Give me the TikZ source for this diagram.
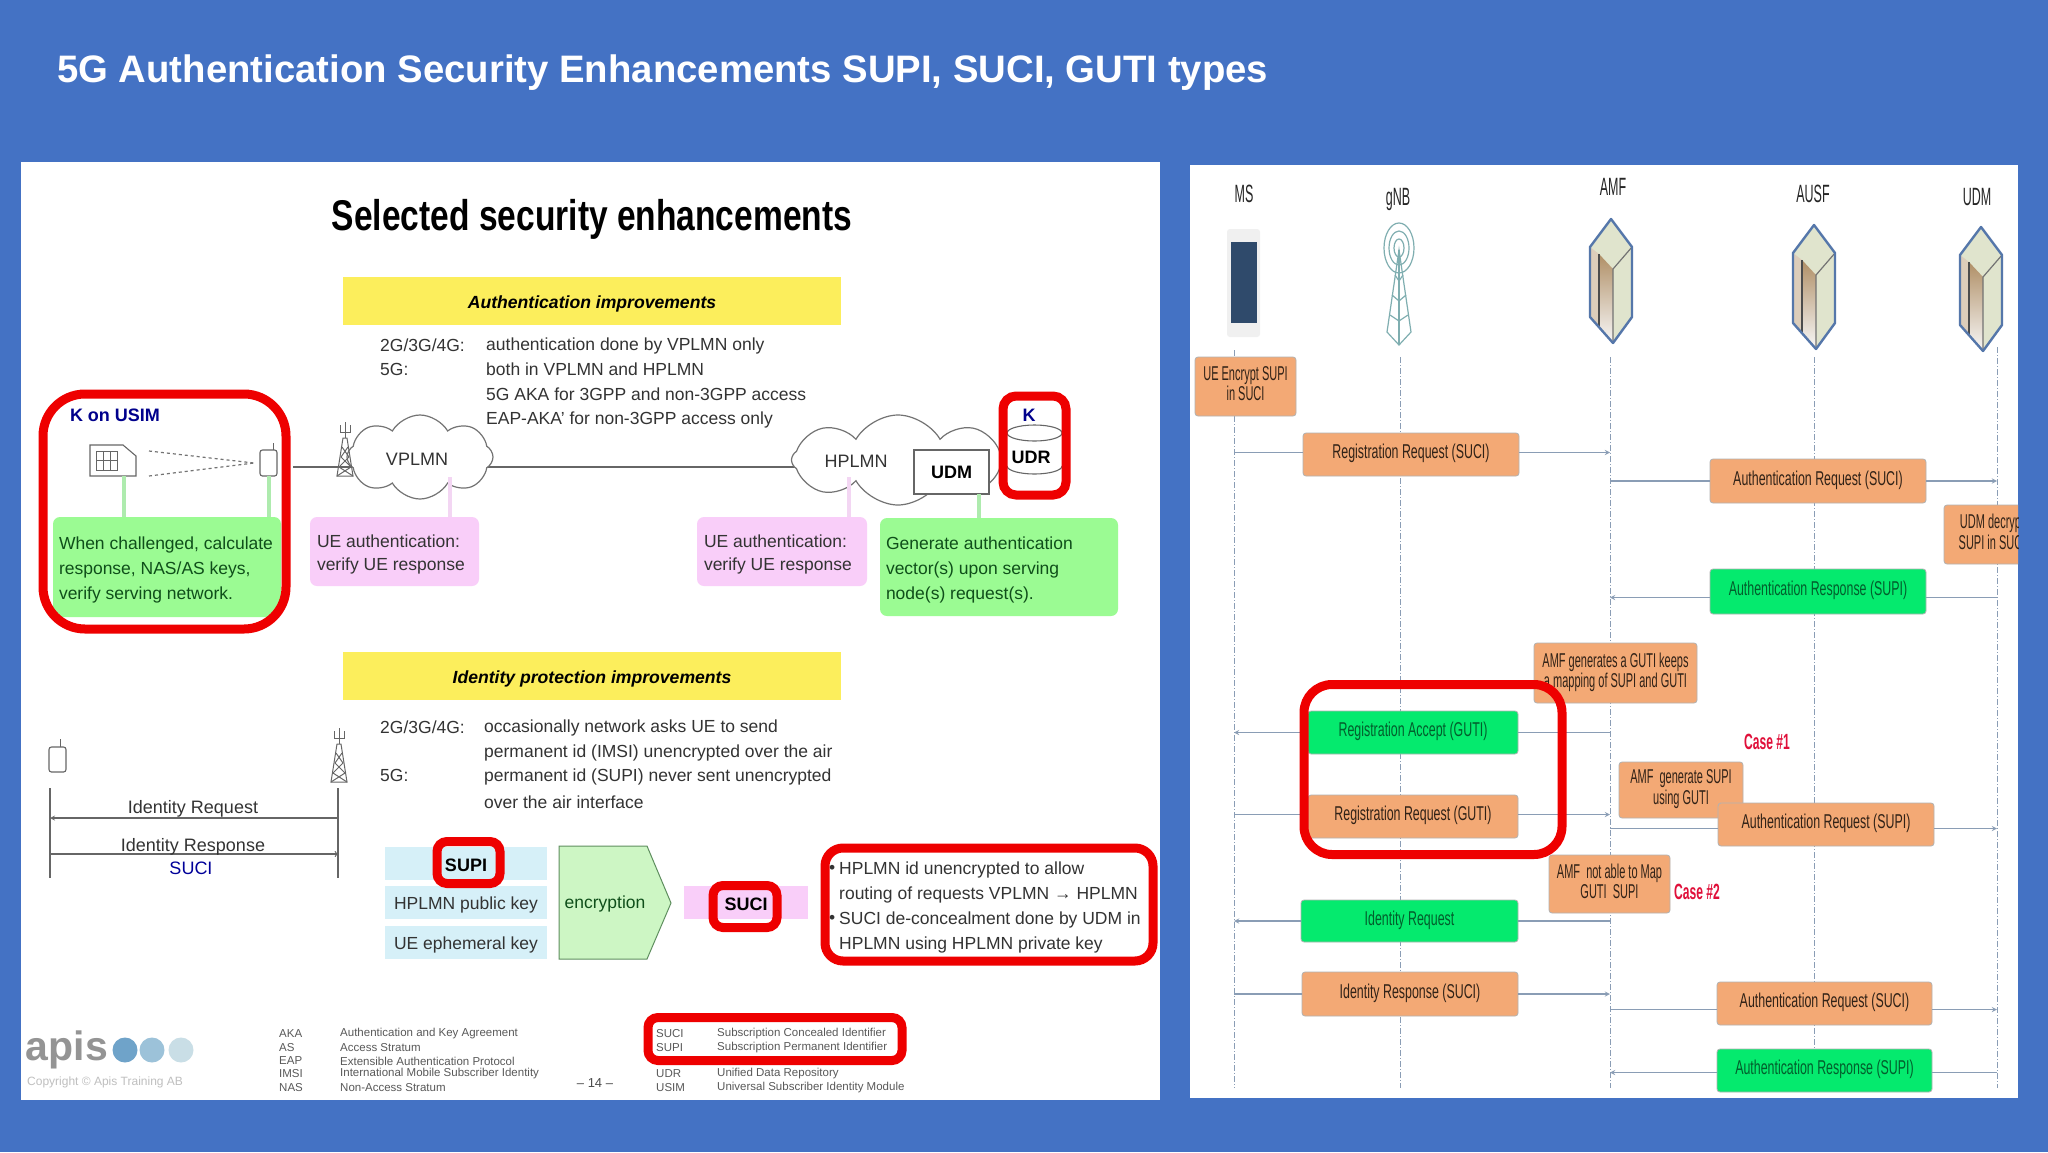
\documentclass[tikz,border=0pt]{standalone}
\usepackage{fontspec}
\setmainfont{Liberation Sans}
\usetikzlibrary{shapes.symbols,shapes.geometric}
\definecolor{slideblue}{HTML}{4472C4}
\definecolor{markred}{HTML}{EE0000}
\definecolor{bodygrey}{HTML}{333333}
\definecolor{bannerfill}{HTML}{FCEE5C}
\definecolor{notegreen}{HTML}{9BFB93}
\definecolor{notegreentxt}{HTML}{0F4F1A}
\definecolor{stemgreen}{HTML}{AEEBAE}
\definecolor{notepink}{HTML}{F9CEF9}
\definecolor{stempink}{HTML}{F3D6F3}
\definecolor{keyblue}{HTML}{D6F0F8}
\definecolor{encfill}{HTML}{CDF6C4}
\definecolor{encedge}{HTML}{5F8F5F}
\definecolor{msgorange}{HTML}{F3A975}
\definecolor{msggreen}{HTML}{05EA6E}
\definecolor{lifeline}{HTML}{8A9DB5}
\definecolor{srvedge}{HTML}{5577AA}
\definecolor{srvface}{HTML}{E0E4CD}
\definecolor{srvbrown}{HTML}{B08F66}
\definecolor{casered}{HTML}{E0103A}
\definecolor{towerteal}{HTML}{7FAEB0}
\definecolor{phonescreen}{HTML}{2F4A6B}
\definecolor{dotone}{HTML}{6FA3C9}
\definecolor{dottwo}{HTML}{9CC2D9}
\definecolor{dotthree}{HTML}{C9DEE6}
\newcommand{\squeeze}[2][.62]{\raisebox{-1.5pt}{\scalebox{#1}[1]{\begin{tabular}{@{}c@{}}#2\end{tabular}}}}
\newcommand{\fsize}[1]{\fontsize{#1}{#1}\selectfont}
\begin{document}
\begin{tikzpicture}[
    x=1pt, y=-1pt,
    lowered/.style={execute at begin node={\rule{0pt}{18pt}}},
    bodytext/.style={anchor=west, inner sep=0pt, yshift=-1.5pt, text=bodygrey, font=\fsize{17.5}},
    banner/.style={fill=bannerfill, minimum width=498pt, minimum height=48pt, inner sep=0pt, lowered, font=\fsize{17.6}\bfseries\itshape},
    greennote/.style={fill=notegreen, rounded corners=7pt, inner sep=0pt, inner xsep=6pt, align=flush left, lowered, text=notegreentxt, font=\fontsize{17.5}{25}\selectfont},
    pinknote/.style={fill=notepink, rounded corners=7pt, inner sep=0pt, inner xsep=7pt, align=flush left, lowered, text=bodygrey, font=\fontsize{17.5}{23}\selectfont},
    greenstem/.style={draw=stemgreen, line width=3.5pt},
    pinkstem/.style={draw=stempink, line width=3.5pt},
    netcloud/.style={cloud, cloud puffs=8, cloud puff arc=120, draw=black!55, line width=1.2pt, fill=white, inner sep=0pt},
    netline/.style={draw=black!60, line width=1.4pt},
    keyrow/.style={fill=keyblue, minimum width=162pt, minimum height=33pt, inner sep=0pt, lowered, text=bodygrey, font=\fsize{17.5}},
    redmark/.style={draw=markred, line width=9pt, inner sep=0pt},
    legendtext/.style={anchor=west, inner sep=0pt, yshift=-1pt, text=black!65, font=\fsize{11.5}},
    flowline/.style={draw=black!60, line width=1.2pt},
    lifedash/.style={draw=lifeline, line width=.9pt, dash pattern=on 6pt off 2pt on 1pt off 2pt},
    msgbox/.style={draw=black!30, line width=.8pt, rounded corners=3pt, inner sep=0pt, text=black!80!msgorange, font=\fsize{20}},
    orangebox/.style={msgbox, fill=msgorange},
    greenbox/.style={msgbox, fill=msggreen, text=black!60!msggreen},
    msgline/.style={draw=lifeline, line width=1.3pt},
    msgarrow/.style={msgline, -stealth},
    entity/.style={inner sep=0pt, yshift=-2pt, text=black!85, font=\fsize{25}},
    casetag/.style={inner sep=0pt, yshift=-2pt, text=casered, font=\fsize{22}},
]
    % slide and the two panels
    \fill[slideblue] (0,0) rectangle (2048,1152);
    \path[use as bounding box] (0,0) rectangle (2048,1152);
    \node[anchor=west, inner sep=0pt, text=white, font=\fsize{38.3}\bfseries] (title) at (57,73) {5G Authentication Security Enhancements SUPI, SUCI, GUTI types};
    \fill[white] (21,162) rectangle (1160,1100);
    \fill[white] (1190,165) rectangle (2018,1098);

    % left panel, top half
    \node[inner sep=0pt, font=\fsize{43}\bfseries] (heading) at (592,219) {\scalebox{.78}[1]{Selected security enhancements}};
    \node[banner] (authbanner) at (592,301) {Authentication improvements};
    \node[bodytext] (auth2g) at (380,344) {2G/3G/4G:};
    \node[bodytext] (auth5g) at (380,368) {5G:};
    \node[bodytext] (authl1) at (486,344) {authentication done by VPLMN only};
    \node[bodytext] (authl2) at (486,368) {both in VPLMN and HPLMN};
    \node[bodytext] (authl3) at (486,393) {5G AKA for 3GPP and non-3GPP access};
    \node[bodytext] (authl4) at (486,418) {EAP-AKA' for non-3GPP access only};

    \node[inner sep=0pt, text=blue!55!black, font=\fsize{18}\bfseries] (kusim) at (115,415) {K on USIM};
    \draw[black!60, line width=1.1pt] (90,445) -- (123,445) -- (136,456) -- (136,476) -- (90,476) -- cycle;
    \draw[black!60, line width=1pt] (96,451) rectangle (117,470) (103,451) -- (103,470) (110,451) -- (110,470) (96,460) -- (117,460);
    \draw[black!55, line width=1.2pt, dash pattern=on 3pt off 3pt] (149,451) -- (254,463) (149,476) -- (254,463);
    \draw[black!60, line width=1.1pt, rounded corners=2.5pt] (260,450) rectangle (277,476);
    \draw[black!60, line width=1pt] (273,450) -- (273,443);

    \coordinate (linestart) at (293,467);
    \coordinate (lineend) at (900,467);
    \draw[netline] (linestart) -- (lineend);
    \node[netcloud, minimum width=146pt, minimum height=84pt] (vplmn) at (420,457) {};
    \node[netcloud, minimum width=213pt, minimum height=90pt] (hplmn) at (898,460) {};
    \node[inner sep=0pt, text=bodygrey, font=\fsize{18}] (vplmntxt) at (417,459) {VPLMN};
    \node[inner sep=0pt, text=bodygrey, font=\fsize{18}] (hplmntxt) at (856,461) {HPLMN};
    \node[draw=black!60, fill=white, line width=1.1pt, minimum width=75pt, minimum height=44pt, inner sep=0pt, font=\fsize{18}\bfseries] (udmbox) at (951.5,472) {UDM};

    % lattice masts
    \foreach \tx/\ty in {345/422, 339/728}
    {
        \begin{scope}[shift={(\tx,\ty)}, draw=black!60, line width=1pt]
            \draw (0,0) -- (0,16) (-5,3) -- (-5,10) -- (5,10) -- (5,3);
            \draw (-2,16) -- (-8,54) -- (8,54) -- (2,16) -- cycle;
            \draw (-3,25) -- (4,35) -- (-6,45) -- (8,54) (3,25) -- (-4,35) -- (6,45) -- (-8,54);
        \end{scope}
    }

    \node[greennote, text width=216pt, minimum height=100pt] (usimnote) at (167,567) {When challenged, calculate\\response, NAS/AS keys,\\verify serving network.};
    \node[pinknote, text width=155pt, minimum height=69pt] (vplmnnote) at (394.5,551.5) {UE authentication:\\verify UE response};
    \node[pinknote, text width=156pt, minimum height=69pt] (hplmnnote) at (782,551.5) {UE authentication:\\verify UE response};
    \node[greennote, text width=226pt, minimum height=98pt] (udmnote) at (999,567) {Generate authentication\\vector(s) upon serving\\node(s) request(s).};
    \coordinate (simbase) at (124,476);
    \coordinate (uebase) at (269,476);
    \coordinate (vcloudbase) at (450,477);
    \coordinate (hcloudbase) at (849,477);
    \coordinate (udmbase) at (979,494);
    \draw[greenstem] (simbase) -- (simbase |- usimnote.north);
    \draw[greenstem] (uebase) -- (uebase |- usimnote.north);
    \draw[pinkstem] (vcloudbase) -- (vcloudbase |- vplmnnote.north);
    \draw[pinkstem] (hcloudbase) -- (hcloudbase |- hplmnnote.north);
    \draw[greenstem] (udmbase) -- (udmbase |- udmnote.north);

    % UDR drum
    \fill[white] (1007,433) -- (1062,433) -- (1062,466) arc[start angle=0, end angle=180, x radius=27.5, y radius=8] -- cycle;
    \draw[black!60, line width=1.1pt, fill=white] (1034.5,433) ellipse (27.5 and 8);
    \draw[black!60, line width=1.1pt] (1062,466) arc[start angle=0, end angle=180, x radius=27.5, y radius=8];
    \node[inner sep=0pt, font=\fsize{18}\bfseries] (udrtxt) at (1031,457) {UDR};
    \node[inner sep=0pt, text=blue!55!black, font=\fsize{18}\bfseries] (ktxt) at (1029,415) {K};

    % left panel, bottom half
    \node[banner] (idbanner) at (592,676) {Identity protection improvements};
    \node[bodytext] (id2g) at (380,726) {2G/3G/4G:};
    \node[bodytext] (id5g) at (380,774) {5G:};
    \node[bodytext] (idl1) at (484,726) {occasionally network asks UE to send};
    \node[bodytext] (idl2) at (484,751) {permanent id (IMSI) unencrypted over the air};
    \node[bodytext] (idl3) at (484,775) {permanent id (SUPI) never sent unencrypted};
    \node[bodytext] (idl4) at (484,801) {over the air interface};

    \draw[black!60, line width=1.1pt, rounded corners=2.5pt] (49,747) rectangle (66,772);
    \draw[black!60, line width=1pt] (60,747) -- (60,739);
    \coordinate (uetop) at (50,788);
    \coordinate (uebot) at (50,878);
    \coordinate (nettop) at (338,788);
    \coordinate (netbot) at (338,878);
    \draw[black!60, line width=2.5pt] (uetop) -- (uebot);
    \draw[black!60, line width=2.5pt] (nettop) -- (netbot);
    \coordinate (reqrow) at (0,818);
    \coordinate (resprow) at (0,854);
    \draw[flowline, -stealth] (nettop |- reqrow) -- (uetop |- reqrow);
    \draw[flowline, ->] (uetop |- resprow) -- (nettop |- resprow);
    \node[inner sep=0pt, text=bodygrey, font=\fsize{18}] (reqtxt) at (193,809) {Identity Request};
    \node[inner sep=0pt, text=bodygrey, font=\fsize{18}] (resptxt) at (193,847) {Identity Response};
    \node[inner sep=0pt, text=blue!60!black, font=\fsize{18}] (sucitxt) at (191,868) {SUCI};

    \node[keyrow, font=\fsize{18}\bfseries, text=black] (supirow) at (466,863) {SUPI};
    \node[keyrow] (pubrow) at (466,902) {HPLMN public key};
    \node[keyrow] (ephrow) at (466,942) {UE ephemeral key};
    \draw[draw=encedge, fill=encfill, line width=1pt] (559,846) -- (647,846) -- (671,903) -- (647,959) -- (559,959) -- cycle;
    \node[inner sep=0pt, text=notegreentxt, font=\fsize{17.5}] (enctxt) at (605,904) {encryption};
    \node[fill=notepink, minimum width=124pt, minimum height=33pt, inner sep=0pt, lowered, font=\fsize{18}\bfseries] (sucirow) at (746,902) {SUCI};
    \node[bodytext, text=black!80] (dot1) at (829,868) {•};
    \node[bodytext, text=black!80] (dot2) at (829,918) {•};
    \node[bodytext] (hpl1) at (839,868) {HPLMN id unencrypted to allow};
    \node[bodytext] (hpl2) at (839,893) {routing of requests VPLMN \textbf{→} HPLMN};
    \node[bodytext] (hpl3) at (839,918) {SUCI de-concealment done by UDM in};
    \node[bodytext] (hpl4) at (839,943) {HPLMN using HPLMN private key};

    % logo and legend
    \node[inner sep=0pt, text=black!42, font=\fsize{41}\bfseries] (apis) at (67,1050) {apis};
    \fill[dotone] (125,1050) circle (12.5);
    \fill[dottwo] (152,1050) circle (12.5);
    \fill[dotthree] (181,1050) circle (12.5);
    \node[anchor=west, inner sep=0pt, text=black!25, font=\fsize{12}] (copy) at (27,1082) {Copyright © Apis Training AB};
    \foreach \abbr/\full/\ly in {AKA/Authentication and Key Agreement/1033, AS/Access Stratum/1047, EAP/Extensible Authentication Protocol/1060, IMSI/International Mobile Subscriber Identity/1073, NAS/Non-Access Stratum/1087}
    {
        \node[legendtext] (l\abbr) at (279,\ly) {\abbr};
        \node[legendtext] (d\abbr) at (340,\ly) {\full};
    }
    \foreach \abbr/\full/\ly in {SUCI/Subscription Concealed Identifier/1033, SUPI/Subscription Permanent Identifier/1047, UDR/Unified Data Repository/1073, USIM/Universal Subscriber Identity Module/1087}
    {
        \node[legendtext] (l\abbr) at (656,\ly) {\abbr};
        \node[legendtext] (d\abbr) at (717,\ly) {\full};
    }
    \node[inner sep=0pt, text=black!70, font=\fsize{13}] (pageno) at (595,1083) {-- 14 --};

    % right panel, entities
    \foreach \nm/\cx/\cy in {MS/1244/195, gNB/1398/198, AMF/1613/188, AUSF/1813/195, UDM/1977/198}
        \node[entity] (t\nm) at (\cx,\cy) {\squeeze[.5]{\nm}};
    \coordinate (msl) at (1234,350);
    \coordinate (gnbl) at (1400,357);
    \coordinate (amfl) at (1610,357);
    \coordinate (ausfl) at (1814,357);
    \coordinate (udml) at (1997,347);
    \foreach \l in {msl, gnbl, amfl, ausfl, udml}
        \draw[lifedash] (\l) -- (\l |- 0,1088);

    \fill[black!6, rounded corners=3pt] (1227,229) rectangle (1260,337);
    \fill[phonescreen] (1231,242) rectangle (1257,323);

    \begin{scope}[draw=towerteal, line width=1.2pt]
        \draw (1399,248) ellipse (15 and 25);
        \draw (1399,248) ellipse (10 and 17);
        \draw (1399,248) ellipse (5 and 9);
        \draw (1399,250) -- (1387,332) -- (1399,345) -- (1411,332) -- cycle;
        \draw (1399,250) -- (1399,345);
        \foreach \h/\w in {275/4, 295/7, 315/9}
            \draw (1399-\w,\h) -- (1399,\h+6) -- (1399+\w,\h);
    \end{scope}

    \foreach \sx/\sy in {1611/219, 1814/225, 1981/227}
    {
        \begin{scope}[shift={(\sx,\sy)}]
            \fill[srvface] (0,0) -- (21,28) -- (2,50) -- (-21,28) -- cycle;
            \fill[srvface] (2,50) -- (21,28) -- (21,98) -- (2,124) -- cycle;
            \shade[top color=srvbrown, bottom color=black!3] (-12,35) -- (2,50) -- (2,124) -- (-12,108) -- cycle;
            \fill[srvbrown!45!white] (-21,28) -- (-12,35) -- (-12,108) -- (-21,98) -- cycle;
            \draw[black!70, line width=1.4pt] (-12,35) -- (-12,108);
            \draw[black!55, line width=1.2pt] (2,124) -- (2,50) -- (21,28);
            \draw[srvedge, line width=2.4pt, line join=round] (0,0) -- (21,28) -- (21,98) -- (2,124) -- (-21,98) -- (-21,28) -- cycle;
        \end{scope}
    }

    % right panel, message boxes
    \begin{scope}
        \clip (1190,165) rectangle (2018,1098);
        \node[orangebox, minimum width=96pt, minimum height=59pt] (udmdec) at (1992,534.5) {\squeeze[.55]{UDM decrypt\\SUPI in SUCI}};
    \end{scope}
    \node[orangebox, minimum width=101pt, minimum height=59pt] (encnote) at (1245.5,386.5) {\squeeze[.55]{UE Encrypt SUPI\\in SUCI}};
    \node[orangebox, minimum width=216pt, minimum height=43pt] (regsuci) at (1411,454.5) {\squeeze{Registration Request (SUCI)}};
    \node[orangebox, minimum width=216pt, minimum height=44pt] (authsuci) at (1818,481) {\squeeze{Authentication Request (SUCI)}};
    \node[greenbox, minimum width=216pt, minimum height=45pt] (respsupi) at (1818,591.5) {\squeeze{Authentication Response (SUPI)}};
    \node[orangebox, minimum width=163pt, minimum height=60pt] (gutinote) at (1615.5,673) {\squeeze[.55]{AMF generates a GUTI keeps\\a mapping of SUPI and GUTI}};
    \node[greenbox, minimum width=210pt, minimum height=43pt] (regacc) at (1413,732.5) {\squeeze{Registration Accept (GUTI)}};
    \node[orangebox, minimum width=210pt, minimum height=43pt] (regguti) at (1413,816.5) {\squeeze{Registration Request (GUTI)}};
    \node[orangebox, minimum width=124pt, minimum height=56pt] (gennote) at (1681,790) {\squeeze[.55]{AMF\ \ generate SUPI\\using GUTI}};
    \node[orangebox, minimum width=216pt, minimum height=43pt] (authsupi) at (1826,824.5) {\squeeze{Authentication Request (SUPI)}};
    \node[orangebox, minimum width=121pt, minimum height=58pt] (mapnote) at (1609.5,884) {\squeeze[.55]{AMF\ \ not able to Map\\GUTI\ \ SUPI}};
    \node[greenbox, minimum width=217pt, minimum height=42pt] (idreq) at (1409.5,921) {\squeeze{Identity Request}};
    \node[orangebox, minimum width=216pt, minimum height=44pt] (idresp) at (1410,994) {\squeeze{Identity Response (SUCI)}};
    \node[orangebox, minimum width=215pt, minimum height=43pt] (authsuci2) at (1824.5,1003.5) {\squeeze{Authentication Request (SUCI)}};
    \node[greenbox, minimum width=215pt, minimum height=43pt] (respsupi2) at (1824.5,1070.5) {\squeeze{Authentication Response (SUPI)}};
    \node[casetag, font=\fsize{22}\bfseries] (case1) at (1767,743) {\squeeze[.55]{Case \#1}};
    \node[casetag, font=\fsize{22}\bfseries] (case2) at (1697,893) {\squeeze[.55]{Case \#2}};

    % messages running to the right
    \foreach \b/\s/\d/\o in {regsuci/msl/amfl/2pt, authsuci/amfl/udml/0pt, regguti/msl/amfl/2pt, authsupi/amfl/udml/-4pt, idresp/msl/amfl/0pt, authsuci2/amfl/udml/-6pt}
    {
        \draw[msgline] ([yshift=\o]\b.west -| \s) -- ([yshift=\o]\b.west);
        \draw[msgarrow] ([yshift=\o]\b.east) -- ([yshift=\o]\b.east -| \d);
    }
    % messages running to the left
    \foreach \b/\s/\d/\o in {respsupi/udml/amfl/-6pt, regacc/amfl/msl/0pt, idreq/amfl/msl/0pt, respsupi2/udml/amfl/-2pt}
    {
        \draw[msgline] ([yshift=\o]\b.east -| \s) -- ([yshift=\o]\b.east);
        \draw[msgarrow] ([yshift=\o]\b.west) -- ([yshift=\o]\b.west -| \d);
    }

    % red marks
    \node[redmark, rounded corners=42pt, minimum width=243pt, minimum height=235pt] (markusim) at (164.5,511.5) {};
    \node[redmark, rounded corners=13pt, minimum width=63pt, minimum height=99pt] (markudr) at (1034.5,445.5) {};
    \node[redmark, rounded corners=10pt, minimum width=63pt, minimum height=42pt] (marksupi) at (468.5,862.5) {};
    \node[redmark, rounded corners=10pt, minimum width=64pt, minimum height=42pt] (marksuci) at (745,906.5) {};
    \node[redmark, rounded corners=18pt, minimum width=328pt, minimum height=113pt] (markhpl) at (989,904.5) {};
    \node[redmark, rounded corners=10pt, minimum width=254pt, minimum height=43pt] (marklegend) at (775,1039) {};
    \node[redmark, rounded corners=28pt, minimum width=258pt, minimum height=170pt] (markreg) at (1433,769.5) {};
\end{tikzpicture}
\end{document}
